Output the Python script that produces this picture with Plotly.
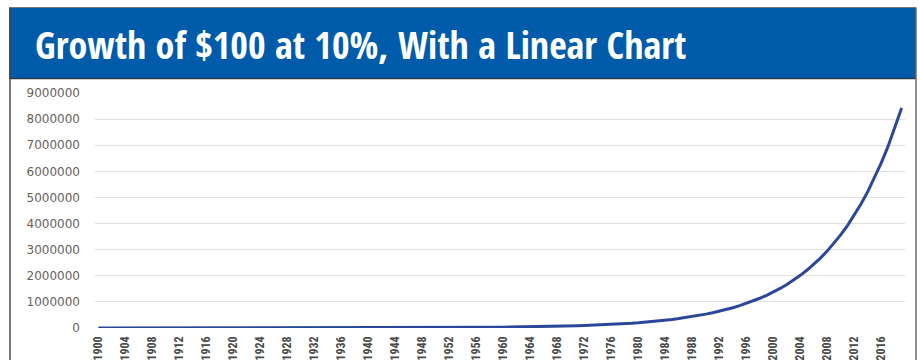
import plotly.graph_objects as go

# Year-end value of $100 compounding at 10% a year, 1900-2019
years = list(range(1900, 2020))
values = [
    100, 110, 121, 133, 146, 161, 177, 195, 214, 236,
    259, 285, 314, 345, 380, 418, 460, 505, 556, 612,
    673, 740, 814, 895, 985, 1083, 1192, 1311, 1442, 1586,
    1745, 1919, 2111, 2323, 2555, 2810, 3091, 3400, 3740, 4114,
    4526, 4979, 5476, 6024, 6626, 7289, 8018, 8820, 9702, 10672,
    11739, 12913, 14204, 15625, 17187, 18906, 20797, 22876, 25164, 27680,
    30448, 33493, 36842, 40527, 44579, 49037, 53941, 59335, 65268, 71795,
    78975, 86872, 95559, 105115, 115627, 127190, 139909, 153899, 169289, 186218,
    204840, 225324, 247857, 272642, 299907, 329897, 362887, 399176, 439093, 483002,
    531303, 584433, 642876, 707164, 777880, 855668, 941235, 1035359, 1138895, 1252784,
    1378061, 1515869, 1667455, 1834201, 2017621, 2219383, 2441322, 2685454, 2953999, 3249399,
    3574339, 3931773, 4324950, 4757445, 5233190, 5756509, 6332160, 6965375, 7661913, 8428104,
]
x_tick_years = list(range(1900, 2020, 4))
x_tick_labels = [str(y) for y in x_tick_years]
y_tick_values = list(range(0, 9000001, 1000000))
y_tick_labels = [str(v) for v in y_tick_values]
title_text = "Growth of $100 at 10%, With a Linear Chart"

W, H = 920, 360
fig = go.Figure()
fig.add_trace(go.Scatter(
    x=years, y=values, mode="lines",
    line=dict(color="#2B479B", width=3), hoverinfo="skip",
))

fig.update_layout(
    width=W, height=H,
    margin=dict(l=0, r=0, t=0, b=0),
    paper_bgcolor="white", plot_bgcolor="white",
    showlegend=False,
    xaxis=dict(
        domain=[95 / W, 905 / W],
        range=[1899.5, 2019.5],
        tickmode="array", tickvals=x_tick_years, ticktext=x_tick_labels,
        tickangle=-90, showgrid=False, zeroline=False, showline=False,
        ticks="", automargin=False, ticklabelstandoff=5,
        tickfont=dict(family="Roboto Condensed", size=12, color="#4a4a4a", weight="bold"),
    ),
    yaxis=dict(
        domain=[1 - 328 / H, 1 - 93 / H],
        range=[0, 9000000],
        tickmode="array", tickvals=y_tick_values, ticktext=y_tick_labels,
        showgrid=True, gridcolor="#E4DFD9", gridwidth=1,
        zeroline=False, showline=False, ticks="", automargin=False,
        ticklabelstandoff=14,
        tickfont=dict(family="DejaVu Sans", size=12, color="#6a5f5a"),
    ),
)

def px_x(v):
    return v / W

def px_y(v):
    return 1 - v / H

shapes = [
    # blue header band
    dict(type="rect", xref="paper", yref="paper",
         x0=px_x(9), x1=px_x(916), y0=px_y(78), y1=px_y(8),
         fillcolor="#005BAA", line=dict(width=0), layer="below"),
    # frame around the panel
    dict(type="line", xref="paper", yref="paper",
         x0=px_x(9), x1=px_x(916), y0=px_y(7.5), y1=px_y(7.5),
         line=dict(color="#7a7a7a", width=1)),
    dict(type="line", xref="paper", yref="paper",
         x0=px_x(9), x1=px_x(916), y0=px_y(78.5), y1=px_y(78.5),
         line=dict(color="#2a3a4a", width=1.5)),
    dict(type="line", xref="paper", yref="paper",
         x0=px_x(10), x1=px_x(10), y0=px_y(7.5), y1=px_y(360),
         line=dict(color="#4a4a4a", width=1.5)),
    dict(type="line", xref="paper", yref="paper",
         x0=px_x(916), x1=px_x(916), y0=px_y(7.5), y1=px_y(360),
         line=dict(color="#6a6a6a", width=1.5)),
]
fig.update_layout(shapes=shapes)

fig.add_annotation(
    xref="paper", yref="paper", x=px_x(33), y=px_y(44),
    xanchor="left", yanchor="middle", showarrow=False,
    text=title_text,
    font=dict(family="Open Sans Condensed", size=38, color="white", weight="bold"),
)

fig.write_html("out.html")
